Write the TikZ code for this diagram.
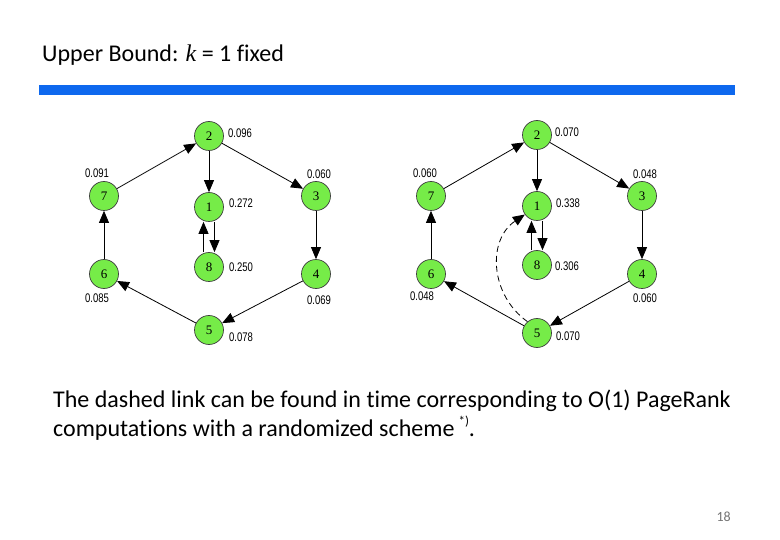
\documentclass[tikz,border=0pt]{standalone}
\usepackage{fontspec}
\setmainfont{Carlito}[Ligatures={NoCommon}]
\newfontfamily\serifnum{Liberation Serif}
\newfontfamily\numfont[FakeStretch=0.76]{Liberation Sans}
\usetikzlibrary{arrows.meta}
\definecolor{barblue}{RGB}{14,104,238}
\definecolor{nodegreen}{RGB}{118,236,72}
\begin{document}
\begin{tikzpicture}[x=1pt,y=-1pt,
  vtx/.style={circle,draw=black!75,line width=0.7pt,fill=nodegreen,minimum size=29pt,inner sep=0pt,font=\serifnum\fontsize{13}{13}\selectfont},
  val/.style={font=\numfont\fontsize{12.5}{12.5}\selectfont,inner sep=0pt},
  edge/.style={-{Triangle[length=12pt,width=10pt]},line width=0.8pt},
  dedge/.style={edge,dash pattern=on 6pt off 4pt},
]
\useasboundingbox (0,0) rectangle (780,540);
% title and bar
\node[anchor=base west,inner sep=0pt,font=\fontsize{24}{26}\selectfont] (title) at (42,62) {Upper Bound: {\serifnum\itshape k} = 1 fixed};
\fill[barblue] (39,85) rectangle (735,95.5);

% left graph
\node[vtx] (a2) at (209,136) {2};
\node[vtx] (a7) at (104,196) {7};
\node[vtx] (a1) at (209,207) {1};
\node[vtx] (a3) at (316,196) {3};
\node[vtx] (a8) at (209,267) {8};
\node[vtx] (a6) at (104,274) {6};
\node[vtx] (a4) at (316,274) {4};
\node[vtx] (a5) at (209,330) {5};
\node[val] (av2) at (240,133) {0.096};
\node[val] (av7) at (97,173) {0.091};
\node[val] (av1) at (241,203) {0.272};
\node[val] (av3) at (319,174) {0.060};
\node[val] (av8) at (241,267) {0.250};
\node[val] (av6) at (97,298) {0.085};
\node[val] (av4) at (319,300) {0.069};
\node[val] (av5) at (241,337) {0.078};
\draw[edge] (a2) -- (a1);
\draw[edge] (a2) -- (a3);
\draw[edge] (a3) -- (a4);
\draw[edge] (a4) -- (a5);
\draw[edge] (a5) -- (a6);
\draw[edge] (a6) -- (a7);
\draw[edge] (a7) -- (a2);
\draw[edge] ([xshift=5.5pt]a1.south) -- ([xshift=5.5pt]a8.north);
\draw[edge] ([xshift=-5.5pt]a8.north) -- ([xshift=-5.5pt]a1.south);

% right graph
\node[vtx] (b2) at (537,135) {2};
\node[vtx] (b7) at (431,196) {7};
\node[vtx] (b1) at (537,206) {1};
\node[vtx] (b3) at (642,196) {3};
\node[vtx] (b8) at (537,265) {8};
\node[vtx] (b6) at (431,274) {6};
\node[vtx] (b4) at (642,274) {4};
\node[vtx] (b5) at (537,333) {5};
\node[val] (bv2) at (567,132) {0.070};
\node[val] (bv7) at (425,173) {0.060};
\node[val] (bv1) at (568,203) {0.338};
\node[val] (bv3) at (645,174) {0.048};
\node[val] (bv8) at (567,266) {0.306};
\node[val] (bv6) at (422,296) {0.048};
\node[val] (bv4) at (645,298) {0.060};
\node[val] (bv5) at (568,336) {0.070};
\draw[edge] (b2) -- (b1);
\draw[edge] (b2) -- (b3);
\draw[edge] (b3) -- (b4);
\draw[edge] (b4) -- (b5);
\draw[edge] (b5) -- (b6);
\draw[edge] (b6) -- (b7);
\draw[edge] (b7) -- (b2);
\draw[edge] ([xshift=5.5pt]b1.south) -- ([xshift=5.5pt]b8.north);
\draw[edge] ([xshift=-5.5pt]b8.north) -- ([xshift=-5.5pt]b1.south);
\draw[dedge] (b5.130) .. controls (490,295) and (487,240) .. (b1.215);

% body text
\node[anchor=base west,inner sep=0pt,align=left,font=\fontsize{24}{28.5}\selectfont] (body) at (53,436)
  {The dashed link can be found in time corresponding to O(1) PageRank\\computations with a randomized scheme\,\raisebox{0.45em}{\fontsize{13}{13}\selectfont *)}.};
\node[anchor=base east,inner sep=0pt,text=black!55,font=\fontsize{14}{14}\selectfont] (page) at (731,521) {18};
\end{tikzpicture}
\end{document}
